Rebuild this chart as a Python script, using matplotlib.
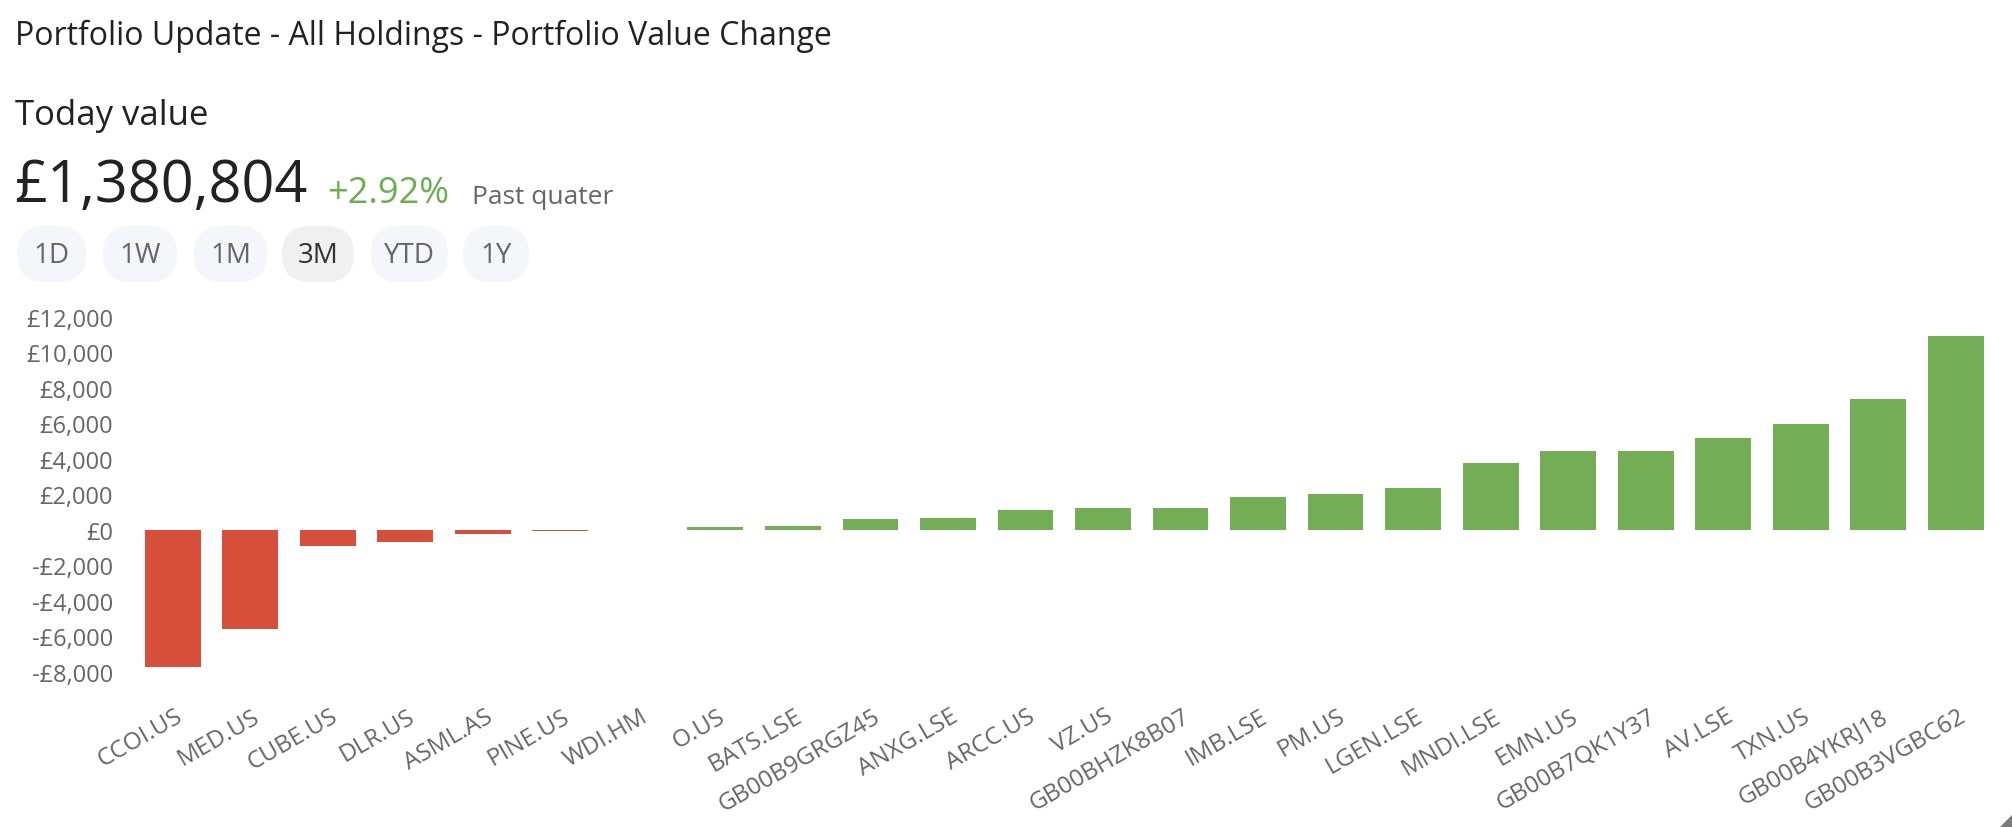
import matplotlib
matplotlib.use("Agg")
import matplotlib.pyplot as plt
from matplotlib.patches import FancyBboxPatch, Polygon
from matplotlib.transforms import IdentityTransform, ScaledTranslation
from matplotlib.ticker import FuncFormatter

# ---------------- data ----------------
tickers = ["CCOI.US", "MED.US", "CUBE.US", "DLR.US", "ASML.AS", "PINE.US", "WDI.HM",
           "O.US", "BATS.LSE", "GB00B9GRGZ45", "ANXG.LSE", "ARCC.US", "VZ.US",
           "GB00BHZK8B07", "IMB.LSE", "PM.US", "LGEN.LSE", "MNDI.LSE", "EMN.US",
           "GB00B7QK1Y37", "AV.LSE", "TXN.US", "GB00B4YKRJ18", "GB00B3VGBC62"]
changes = [-7740, -5570, -880, -690, -220, -40, 0,
           150, 210, 620, 680, 1120, 1230,
           1230, 1860, 2050, 2370, 3760, 4470,
           4470, 5200, 5990, 7360, 10950]
y_ticks = [-8000, -6000, -4000, -2000, 0, 2000, 4000, 6000, 8000, 10000, 12000]
title_text = "Portfolio Update - All Holdings - Portfolio Value Change"
subtitle_text = "Today value"
total_value = "£1,380,804"
pct_change = "+2.92%"
period_text = "Past quater"
buttons = ["1D", "1W", "1M", "3M", "YTD", "1Y"]
active_button = "3M"

# ---------------- style ----------------
W, H = 2012, 828
DPI = 100
RED = "#D64F3B"
GREEN = "#73AD55"
TXT = "#222222"
GREY = "#666666"
HEAD_FONT = ["Open Sans", "DejaVu Sans"]
TICK_FONT = ["Open Sans", "DejaVu Sans"]

fig = plt.figure(figsize=(W / DPI, H / DPI), dpi=DPI)
fig.patch.set_facecolor("white")


def fx(x):
    return x / W


def fy(y):
    return 1 - y / H


# header texts
fig.text(fx(15), fy(45), title_text, fontsize=23, color=TXT, family=HEAD_FONT, va="baseline")
fig.text(fx(15), fy(125), subtitle_text, fontsize=25, color=TXT, family=HEAD_FONT, va="baseline")
fig.text(fx(14), fy(202), total_value, fontsize=41.5, color=TXT, family=HEAD_FONT, va="baseline")
fig.text(fx(327), fy(203), pct_change, fontsize=26, color="#6AAF50", family=HEAD_FONT, va="baseline")
fig.text(fx(472), fy(204), period_text, fontsize=19, color=GREY, family=HEAD_FONT, va="baseline")

# period buttons (pixel layout)
btn_x = [(17, 86), (103, 177), (194, 267), (282, 354), (371, 448), (463, 529)]
btn_top, btn_bot = 227, 283
for label, (x0, x1) in zip(buttons, btn_x):
    active = label == active_button
    p = FancyBboxPatch((x0, H - btn_bot), x1 - x0, btn_bot - btn_top,
                       boxstyle="round,pad=0,rounding_size=28",
                       transform=IdentityTransform(),
                       facecolor="#F0F0F0" if active else "#F5F6FB",
                       edgecolor="none")
    fig.patches.append(p)
    fig.text(fx((x0 + x1) / 2), fy((btn_top + btn_bot) / 2 + 1), label,
             fontsize=20, color="#333333" if active else GREY, family=HEAD_FONT,
             ha="center", va="center")

# ---------------- chart ----------------
ax_left, ax_right = 134, 1994.5
ax_top, ax_bot = 318, 673
ax = fig.add_axes([fx(ax_left), 1 - ax_bot / H, (ax_right - ax_left) / W, (ax_bot - ax_top) / H])
x = list(range(len(tickers)))
colors = [GREEN if v >= 0 else RED for v in changes]
ax.bar(x, changes, width=0.72, color=colors, edgecolor="none")
ax.set_xlim(-0.5, len(tickers) - 0.5)
ax.set_ylim(y_ticks[0], y_ticks[-1])
ax.set_yticks(y_ticks)


def fmt(v, pos):
    v = int(v)
    if v < 0:
        return "-£{:,}".format(-v)
    return "£{:,}".format(v)


ax.yaxis.set_major_formatter(FuncFormatter(fmt))
ax.set_xticks(x)
ax.set_xticklabels(tickers, rotation=30, ha="right", va="top", rotation_mode="anchor")
ax.tick_params(axis="y", length=0, pad=15, labelsize=17, labelcolor=GREY)
ax.tick_params(axis="x", length=0, pad=23, labelsize=17.5, labelcolor=GREY)
for lbl in ax.get_yticklabels() + ax.get_xticklabels():
    lbl.set_family(TICK_FONT)
offset = ScaledTranslation(2 / DPI, 0, fig.dpi_scale_trans)
for lbl in ax.get_xticklabels():
    lbl.set_transform(lbl.get_transform() + offset)
for s in ax.spines.values():
    s.set_visible(False)
ax.set_facecolor("none")

# resize handle in the bottom-right corner
tri = Polygon([(W, 0), (W, 12), (W - 12, 0)], closed=True, transform=IdentityTransform(),
              facecolor="#7a7a7a", edgecolor="none")
fig.patches.append(tri)

fig.savefig("out.png", dpi=DPI, facecolor="white")
